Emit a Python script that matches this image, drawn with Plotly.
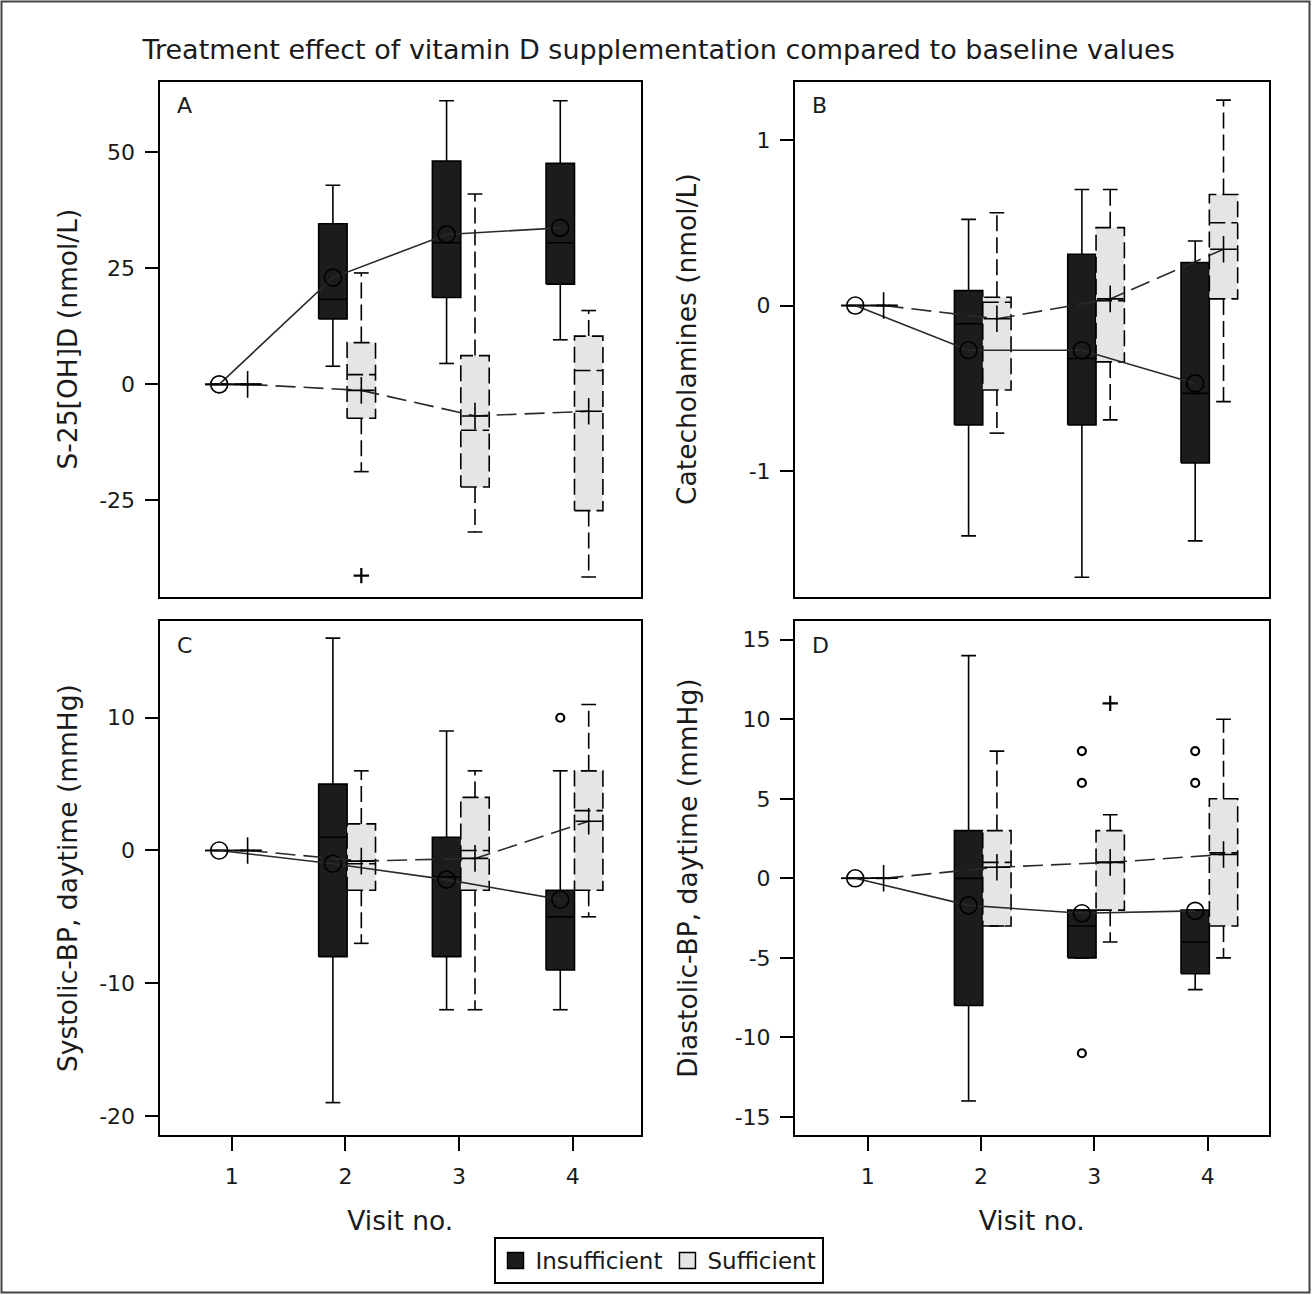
import plotly.graph_objects as go

# ---------------- data ----------------
VISITS = [1, 2, 3, 4]
GROUPS = ["Insufficient", "Sufficient"]

# Panel A: S-25[OH]D (nmol/L)
A_INS_LOW = [0, 3.9, 4.5, 9.6]
A_INS_Q1 = [0, 14.1, 18.7, 21.6]
A_INS_MED = [0, 18.3, 30.5, 30.5]
A_INS_Q3 = [0, 34.6, 48.1, 47.6]
A_INS_HIGH = [0, 42.9, 61.1, 61.1]
A_INS_MEAN = [0, 23.0, 32.3, 33.7]
A_INS_OUT_X = []
A_INS_OUT_Y = []
A_SUF_LOW = [0, -18.8, -31.8, -41.5]
A_SUF_Q1 = [0, -7.3, -22.1, -27.2]
A_SUF_MED = [0, 2.1, -9.9, 3.0]
A_SUF_Q3 = [0, 9.0, 6.2, 10.4]
A_SUF_HIGH = [0, 24.0, 41.0, 15.9]
A_SUF_MEAN = [0, -1.3, -6.8, -5.8]
A_SUF_OUT_X = [2]
A_SUF_OUT_Y = [-41.2]

# Panel B: Catecholamines (nmol/L)
B_INS_LOW = [0, -1.39, -1.64, -1.42]
B_INS_Q1 = [0, -0.72, -0.72, -0.95]
B_INS_MED = [0, -0.11, -0.32, -0.53]
B_INS_Q3 = [0, 0.09, 0.31, 0.26]
B_INS_HIGH = [0, 0.52, 0.70, 0.39]
B_INS_MEAN = [0, -0.27, -0.27, -0.47]
B_INS_OUT_X = []
B_INS_OUT_Y = []
B_SUF_LOW = [0, -0.77, -0.69, -0.58]
B_SUF_Q1 = [0, -0.51, -0.34, 0.04]
B_SUF_MED = [0, 0.02, 0.03, 0.50]
B_SUF_Q3 = [0, 0.05, 0.47, 0.67]
B_SUF_HIGH = [0, 0.56, 0.70, 1.24]
B_SUF_MEAN = [0, -0.08, 0.04, 0.34]
B_SUF_OUT_X = []
B_SUF_OUT_Y = []

# Panel C: Systolic-BP, daytime (mmHg)
C_INS_LOW = [0, -19, -12, -12]
C_INS_Q1 = [0, -8, -8, -9]
C_INS_MED = [0, 1, -2, -5]
C_INS_Q3 = [0, 5, 1, -3]
C_INS_HIGH = [0, 16, 9, 6]
C_INS_MEAN = [0, -1.0, -2.2, -3.7]
C_INS_OUT_X = [4]
C_INS_OUT_Y = [10]
C_SUF_LOW = [0, -7, -12, -5]
C_SUF_Q1 = [0, -3, -3, -3]
C_SUF_MED = [0, -1, 0, 3]
C_SUF_Q3 = [0, 2, 4, 6]
C_SUF_HIGH = [0, 6, 6, 11]
C_SUF_MEAN = [0, -0.8, -0.6, 2.2]
C_SUF_OUT_X = []
C_SUF_OUT_Y = []

# Panel D: Diastolic-BP, daytime (mmHg)
D_INS_LOW = [0, -14, -5, -7]
D_INS_Q1 = [0, -8, -5, -6]
D_INS_MED = [0, 0, -3, -4]
D_INS_Q3 = [0, 3, -2, -2]
D_INS_HIGH = [0, 14, -2, -2]
D_INS_MEAN = [0, -1.7, -2.2, -2.05]
D_INS_OUT_X = [3, 3, 3, 4, 4]
D_INS_OUT_Y = [8, 6, -11, 8, 6]
D_SUF_LOW = [0, -3, -4, -5]
D_SUF_Q1 = [0, -3, -2, -3]
D_SUF_MED = [0, 1, 1, 1.6]
D_SUF_Q3 = [0, 3, 3, 5]
D_SUF_HIGH = [0, 8, 4, 10]
D_SUF_MEAN = [0, 0.7, 1.0, 1.5]
D_SUF_OUT_X = [3]
D_SUF_OUT_Y = [11]

PANEL_LETTERS = ["A", "B", "C", "D"]
Y_TITLES = ["S-25[OH]D (nmol/L)", "Catecholamines (nmol/L)",
            "Systolic-BP, daytime (mmHg)", "Diastolic-BP, daytime (mmHg)"]
Y_TICKS = [[-25, 0, 25, 50], [-1, 0, 1], [-20, -10, 0, 10], [-15, -10, -5, 0, 5, 10, 15]]
TITLE = "Treatment effect of vitamin D supplementation compared to baseline values"
X_TITLE = "Visit no."

PANELS = [
    dict(ins=(A_INS_LOW, A_INS_Q1, A_INS_MED, A_INS_Q3, A_INS_HIGH, A_INS_MEAN, A_INS_OUT_X, A_INS_OUT_Y),
         suf=(A_SUF_LOW, A_SUF_Q1, A_SUF_MED, A_SUF_Q3, A_SUF_HIGH, A_SUF_MEAN, A_SUF_OUT_X, A_SUF_OUT_Y)),
    dict(ins=(B_INS_LOW, B_INS_Q1, B_INS_MED, B_INS_Q3, B_INS_HIGH, B_INS_MEAN, B_INS_OUT_X, B_INS_OUT_Y),
         suf=(B_SUF_LOW, B_SUF_Q1, B_SUF_MED, B_SUF_Q3, B_SUF_HIGH, B_SUF_MEAN, B_SUF_OUT_X, B_SUF_OUT_Y)),
    dict(ins=(C_INS_LOW, C_INS_Q1, C_INS_MED, C_INS_Q3, C_INS_HIGH, C_INS_MEAN, C_INS_OUT_X, C_INS_OUT_Y),
         suf=(C_SUF_LOW, C_SUF_Q1, C_SUF_MED, C_SUF_Q3, C_SUF_HIGH, C_SUF_MEAN, C_SUF_OUT_X, C_SUF_OUT_Y)),
    dict(ins=(D_INS_LOW, D_INS_Q1, D_INS_MED, D_INS_Q3, D_INS_HIGH, D_INS_MEAN, D_INS_OUT_X, D_INS_OUT_Y),
         suf=(D_SUF_LOW, D_SUF_Q1, D_SUF_MED, D_SUF_Q3, D_SUF_HIGH, D_SUF_MEAN, D_SUF_OUT_X, D_SUF_OUT_Y)),
]

# ---------------- styling ----------------
W, H = 1312, 1295
FONT = "DejaVu Sans, Verdana, sans-serif"
TXT = "#1a1a1a"
FILL = {"ins": "#1c1c1c", "suf": "#e5e5e5"}
DASH = {"ins": "solid", "suf": "16px,6px"}
MEAN_DASH = {"ins": "solid", "suf": "20px,8px"}
OFFSET = {"ins": -0.11, "suf": 0.14}
BOX_W = 0.25
CAP_W = 0.13
MEAN_SYM = {"ins": "circle-open", "suf": "cross-thin-open"}
MEAN_SIZE = {"ins": 17, "suf": 19}
OUT_SYM = {"ins": "circle-open", "suf": "cross-thin-open"}
OUT_SIZE = {"ins": 8, "suf": 11}

# pixel boxes of the 4 panels (left, right, top, bottom)
PIX = [(159.5, 641, 81.7, 596.5), (795, 1268.5, 81.7, 596.5),
       (159.5, 641, 621, 1135), (795, 1268.5, 621, 1135)]
X_RANGES = [[0.365, 4.60], [0.358, 4.537], [0.365, 4.60], [0.358, 4.537]]
Y_RANGES = [[-45.7, 65.2], [-1.756, 1.351], [-21.44, 17.29], [-16.14, 16.18]]
STANDOFF = [14, 44, 14, 29]

fig = go.Figure()

for i, panel in enumerate(PANELS):
    xa = "x" if i == 0 else f"x{i+1}"
    ya = "y" if i == 0 else f"y{i+1}"
    # boxes
    for g in ("ins", "suf"):
        low, q1, med, q3, high, mean, ox, oy = panel[g]
        off = OFFSET[g]
        bx, by = [], []
        for v, a, b in zip(VISITS, q1, q3):
            c = v + off
            bx += [c - BOX_W / 2, c + BOX_W / 2, c + BOX_W / 2, c - BOX_W / 2, c - BOX_W / 2, None]
            by += [a, a, b, b, a, None]
        fig.add_trace(go.Scatter(x=bx, y=by, xaxis=xa, yaxis=ya, mode="lines", fill="toself",
                                 fillcolor=FILL[g], line=dict(color="black", width=1.6, dash=DASH[g]),
                                 showlegend=False, hoverinfo="skip"))
    for g in ("ins", "suf"):
        low, q1, med, q3, high, mean, ox, oy = panel[g]
        off = OFFSET[g]
        wx, wy = [], []
        for v, lo, a, m, b, hi in zip(VISITS, low, q1, med, q3, high):
            c = v + off
            wx += [c - BOX_W / 2, c + BOX_W / 2, None, c, c, None, c - CAP_W / 2, c + CAP_W / 2, None,
                   c, c, None, c - CAP_W / 2, c + CAP_W / 2, None]
            wy += [m, m, None, b, hi, None, hi, hi, None, a, lo, None, lo, lo, None]
        fig.add_trace(go.Scatter(x=wx, y=wy, xaxis=xa, yaxis=ya, mode="lines",
                                 line=dict(color="black", width=1.6, dash=DASH[g]),
                                 showlegend=False, hoverinfo="skip"))
        if ox:
            fig.add_trace(go.Scatter(x=[v + off for v in ox], y=oy, xaxis=xa, yaxis=ya, mode="markers",
                                     marker=dict(symbol=OUT_SYM[g], size=OUT_SIZE[g], color="black",
                                                 line=dict(color="black", width=2.2)),
                                     showlegend=False, hoverinfo="skip"))
    # mean lines
    for g in ("ins", "suf"):
        low, q1, med, q3, high, mean, ox, oy = panel[g]
        off = OFFSET[g]
        fig.add_trace(go.Scatter(x=[v + off for v in VISITS], y=mean, xaxis=xa, yaxis=ya,
                                 mode="lines+markers",
                                 line=dict(color="#2a2a2a", width=1.6, dash=MEAN_DASH[g]),
                                 marker=dict(symbol=MEAN_SYM[g], size=MEAN_SIZE[g], color="black",
                                             line=dict(color="black", width=1.6)),
                                 showlegend=False, hoverinfo="skip"))

# legend entries
for g, name in zip(("ins", "suf"), GROUPS):
    fig.add_trace(go.Scatter(x=[None], y=[None], mode="markers", name=name,
                             marker=dict(symbol="square", size=17, color=FILL[g],
                                         line=dict(color="black", width=1.5)),
                             showlegend=True))

layout = dict(
    width=W, height=H,
    margin=dict(l=0, r=0, t=0, b=0),
    paper_bgcolor="white", plot_bgcolor="white",
    font=dict(family=FONT, color=TXT, size=22),
    title=dict(text=TITLE, x=0.502, xanchor="center", y=1 - 50 / H, yanchor="middle",
               font=dict(family=FONT, size=27, color=TXT)),
    showlegend=True,
    legend=dict(orientation="h", x=658.5 / W, xanchor="center", y=1 - 1237 / H, yanchor="top",
                bordercolor="black", borderwidth=2, bgcolor="white",
                font=dict(family=FONT, size=23, color=TXT), itemclick=False),
)

annotations = []
for i in range(4):
    l, r, t, b = PIX[i]
    sfx = "" if i == 0 else str(i + 1)
    bottom = i >= 2
    layout["xaxis" + sfx] = dict(
        domain=[l / W, r / W], range=X_RANGES[i], anchor="y" + sfx,
        showline=True, mirror=True, linecolor="black", linewidth=2,
        showgrid=False, zeroline=False,
        tickvals=VISITS if bottom else [], ticktext=[str(v) for v in VISITS] if bottom else [],
        ticks="outside" if bottom else "", ticklen=14, tickwidth=2, tickcolor="black",
        showticklabels=bottom, tickfont=dict(size=22, color=TXT), ticklabelstandoff=7,
        title=dict(text=X_TITLE if bottom else "", font=dict(size=26.5, color=TXT), standoff=23),
    )
    layout["yaxis" + sfx] = dict(
        domain=[1 - b / H, 1 - t / H], range=Y_RANGES[i], anchor="x" + sfx,
        showline=True, mirror=True, linecolor="black", linewidth=2,
        showgrid=False, zeroline=False,
        tickvals=Y_TICKS[i], ticktext=[str(v) for v in Y_TICKS[i]],
        ticks="outside", ticklen=13, tickwidth=2, tickcolor="black",
        tickfont=dict(size=22, color=TXT), ticklabelstandoff=5,
        title=dict(text=Y_TITLES[i], font=dict(size=26.5, color=TXT), standoff=STANDOFF[i]),
    )
    annotations.append(dict(text=PANEL_LETTERS[i], xref=f"x{sfx} domain", yref=f"y{sfx} domain",
                            x=0.032, y=0.953, xanchor="left", yanchor="middle", showarrow=False,
                            font=dict(size=22, color=TXT)))

layout["annotations"] = annotations
layout["shapes"] = [dict(type="rect", xref="paper", yref="paper", x0=1.5 / W, x1=1 - 2.5 / W,
                         y0=2.5 / H, y1=1 - 1.5 / H, line=dict(color="#444444", width=2))]
fig.update_layout(**layout)

fig.write_html("out.html", config={"displayModeBar": False},
               post_script="document.body.style.margin='0';document.body.style.overflow='hidden';")
